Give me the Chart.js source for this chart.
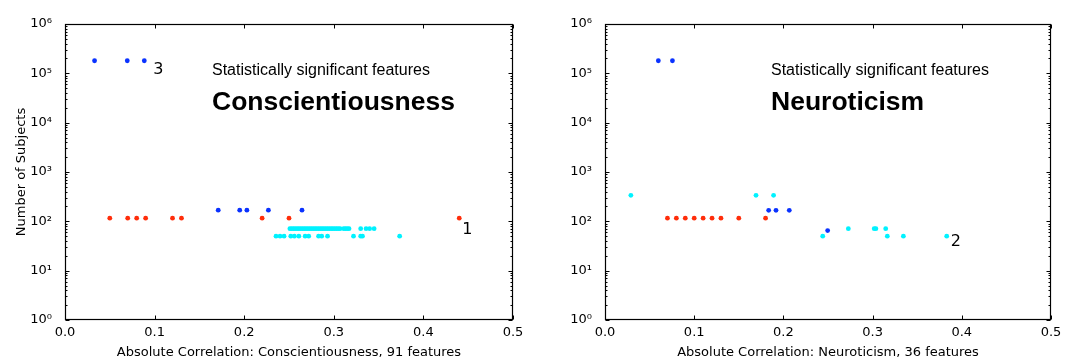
<!DOCTYPE html>
<html>
<head>
<meta charset="utf-8">
<script src="https://cdn.jsdelivr.net/npm/chart.js@4.4.1/dist/chart.umd.min.js"></script>
<style>
  body { margin: 0; background: #fff; }
  .wrap { position: relative; width: 1066px; height: 360px; }
  .box { position: absolute; top: 0; width: 533px; height: 360px; }
</style>
</head>
<body>
<div class="wrap">
  <div class="box" style="left:0"><canvas id="consChart" width="533" height="360"></canvas></div>
  <div class="box" style="left:533px"><canvas id="neuroChart" width="533" height="360"></canvas></div>
</div>
<script>
// ---- data ----
// Conscientiousness
const consBlueX = [0.033, 0.0695, 0.0885, 0.171, 0.195, 0.203, 0.227, 0.2645];
const consBlueY = [180000, 180000, 180000, 168, 168, 168, 168, 168];
const consRedX = [0.05, 0.07, 0.08, 0.09, 0.12, 0.13, 0.22, 0.25, 0.44];
const consRedY = [116, 116, 116, 116, 116, 116, 116, 116, 116];
const consCyanX = [
  0.251, 0.253, 0.255, 0.257, 0.259, 0.261, 0.263, 0.265, 0.267, 0.269,
  0.271, 0.273, 0.275, 0.277, 0.279, 0.281, 0.283, 0.285, 0.287, 0.289,
  0.291, 0.293, 0.295, 0.297, 0.299, 0.301, 0.303, 0.305, 0.307, 0.311,
  0.313, 0.315, 0.317, 0.330, 0.336, 0.340, 0.345,
  0.2355, 0.240, 0.2445, 0.252, 0.256, 0.261, 0.268, 0.272, 0.283, 0.2865,
  0.293, 0.322, 0.330, 0.332, 0.3735
];
const consCyanY = [
  71, 71, 71, 71, 71, 71, 71, 71, 71, 71,
  71, 71, 71, 71, 71, 71, 71, 71, 71, 71,
  71, 71, 71, 71, 71, 71, 71, 71, 71, 71,
  71, 71, 71, 71, 71, 71, 71,
  50, 50, 50, 50, 50, 50, 50, 50, 50, 50,
  50, 50, 50, 50, 50
];

// Neuroticism
const neuroBlueX = [0.0598, 0.0756, 0.1835, 0.1917, 0.2066, 0.2496];
const neuroBlueY = [180000, 180000, 167, 167, 167, 65];
const neuroRedX = [0.07, 0.08, 0.09, 0.10, 0.11, 0.12, 0.13, 0.15, 0.18];
const neuroRedY = [116, 116, 116, 116, 116, 116, 116, 116, 116];
const neuroCyanX = [0.029, 0.1693, 0.189, 0.2441, 0.2728, 0.3018, 0.3037, 0.3147, 0.3165, 0.3345, 0.3831];
const neuroCyanY = [337, 337, 337, 50, 71, 71, 71, 71, 50, 50, 50];

const xTicks = [0, 0.1, 0.2, 0.3, 0.4, 0.5];
const yTicks = [1, 10, 100, 1000, 10000, 100000, 1000000];
const supDigits = ['⁰', '¹', '²', '³', '⁴', '⁵', '⁶'];

const RED = '#ff2d0a';
const BLUE = '#0a32ff';
const CYAN = '#00f2ff';

function zip(xs, ys) {
  return xs.map(function (x, i) { return { x: x, y: ys[i] }; });
}

// frame, inward ticks and the text inside the axes
const framePlugin = {
  id: 'frame',
  afterDraw: function (chart, args, opts) {
    const ctx = chart.ctx;
    const a = chart.chartArea;
    const xs = chart.scales.x;
    const ys = chart.scales.y;
    const L = Math.round(a.left) + 0.5, R = Math.round(a.right) - 0.5;
    const T = Math.round(a.top) + 0.5, B = Math.round(a.bottom) - 0.5;
    ctx.save();
    ctx.strokeStyle = '#000';
    ctx.lineWidth = 1;
    ctx.beginPath();
    xTicks.forEach(function (v) {
      const px = Math.round(xs.getPixelForValue(v)) + 0.5;
      ctx.moveTo(px, B); ctx.lineTo(px, B - 4);
      ctx.moveTo(px, T); ctx.lineTo(px, T + 4);
    });
    yTicks.forEach(function (v) {
      const py = Math.round(ys.getPixelForValue(v)) + 0.5;
      ctx.moveTo(L, py); ctx.lineTo(L + 4, py);
      ctx.moveTo(R, py); ctx.lineTo(R - 4, py);
    });
    for (let d = 1; d < 1000000; d *= 10) {
      for (let m = 2; m <= 9; m++) {
        const py = Math.round(ys.getPixelForValue(m * d)) + 0.5;
        ctx.moveTo(L, py); ctx.lineTo(L + 2, py);
        ctx.moveTo(R, py); ctx.lineTo(R - 2, py);
      }
    }
    ctx.stroke();
    ctx.lineWidth = 1.2;
    ctx.strokeRect(L, T, R - L, B - T);

    ctx.fillStyle = '#000';
    ctx.textBaseline = 'middle';
    ctx.textAlign = 'left';
    ctx.font = '16px "Liberation Sans", Arial, sans-serif';
    ctx.fillText('Statistically significant features', a.left + opts.textDx, a.top + 47);
    ctx.font = 'bold 26.5px "Liberation Sans", Arial, sans-serif';
    ctx.fillText(opts.trait, a.left + opts.textDx, a.top + 79);

    ctx.textAlign = 'center';
    ctx.font = '16px "DejaVu Sans", sans-serif';
    opts.notes.forEach(function (n) {
      ctx.fillText(n.text, xs.getPixelForValue(n.x) + n.dx, ys.getPixelForValue(n.y) + n.dy);
    });
    ctx.restore();
  }
};

function makeChart(id, red, blue, cyan, xTitle, yTitle, yWidth, padRight, trait, textDx, notes) {
  const tickFont = { family: '"DejaVu Sans", sans-serif', size: 13 };
  return new Chart(document.getElementById(id), {
    type: 'scatter',
    data: {
      datasets: [
        { data: red, backgroundColor: RED },
        { data: blue, backgroundColor: BLUE },
        { data: cyan, backgroundColor: CYAN }
      ]
    },
    options: {
      responsive: false,
      animation: false,
      layout: { padding: { top: 24, right: padRight, left: 0, bottom: 0 } },
      elements: { point: { radius: 2.4, borderWidth: 0, hoverRadius: 2.4 } },
      plugins: {
        legend: { display: false },
        tooltip: { enabled: false },
        frame: { trait: trait, textDx: textDx, notes: notes }
      },
      scales: {
        x: {
          type: 'linear',
          min: 0,
          max: 0.5,
          afterBuildTicks: function (s) { s.ticks = xTicks.map(function (v) { return { value: v }; }); },
          afterFit: function (s) { s.height = 40; },
          grid: { display: false },
          border: { display: false },
          ticks: {
            color: '#000', font: tickFont, padding: -3, maxRotation: 0,
            callback: function (v) { return v.toFixed(1); }
          },
          title: {
            display: true, text: xTitle, color: '#000', font: tickFont,
            padding: { top: 0, bottom: 0 }
          }
        },
        y: {
          type: 'logarithmic',
          min: 1,
          max: 1000000,
          afterBuildTicks: function (s) { s.ticks = yTicks.map(function (v) { return { value: v }; }); },
          afterFit: function (s) { s.width = yWidth; },
          grid: { display: false },
          border: { display: false },
          ticks: {
            color: '#000', font: tickFont, padding: 5,
            callback: function (v) { return '10' + supDigits[Math.round(Math.log10(v))]; }
          },
          title: {
            display: !!yTitle, text: yTitle, color: '#000', font: tickFont,
            padding: { top: 14, bottom: 0 }
          }
        }
      }
    },
    plugins: [framePlugin]
  });
}

makeChart('consChart',
  zip(consRedX, consRedY), zip(consBlueX, consBlueY), zip(consCyanX, consCyanY),
  'Absolute Correlation: Conscientiousness, 91 features', 'Number of Subjects',
  65, 20, 'Conscientiousness', 147,
  [{ text: '3', x: 0.0885, y: 180000, dx: 14, dy: 9 },
   { text: '1', x: 0.44, y: 116, dx: 8, dy: 12 }]);

makeChart('neuroChart',
  zip(neuroRedX, neuroRedY), zip(neuroBlueX, neuroBlueY), zip(neuroCyanX, neuroCyanY),
  'Absolute Correlation: Neuroticism, 36 features', '',
  72, 15, 'Neuroticism', 166,
  [{ text: '2', x: 0.3831, y: 50, dx: 9, dy: 6 }]);
</script>
</body>
</html>
